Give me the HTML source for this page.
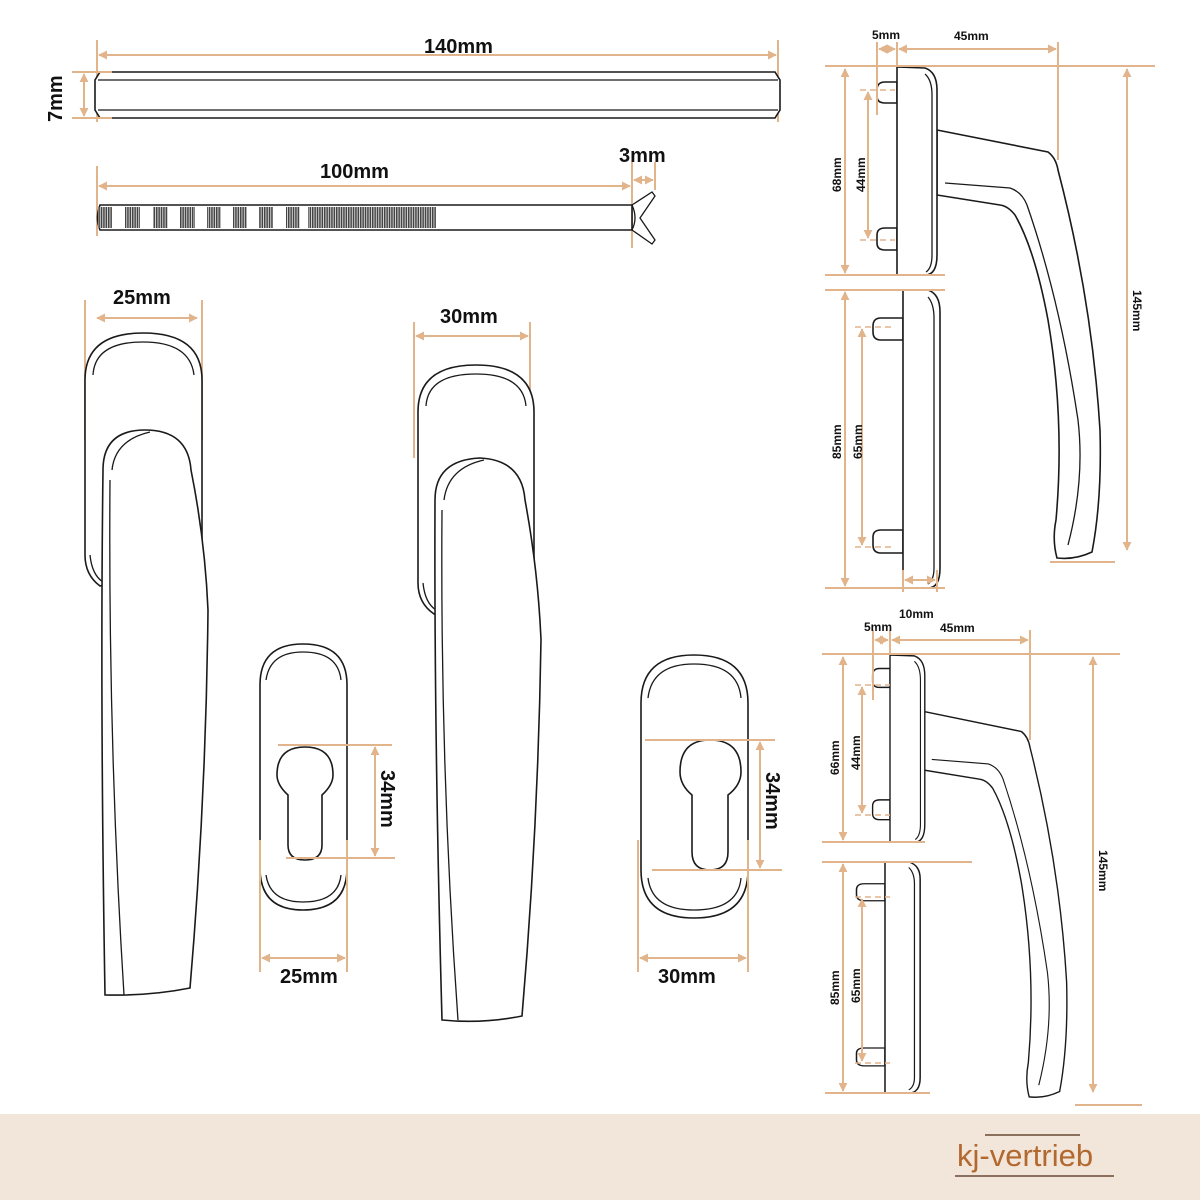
<!DOCTYPE html>
<html><head><meta charset="utf-8"><style>
html,body{margin:0;padding:0;background:#fff}
svg{display:block}
text{font-family:"Liberation Sans",sans-serif;font-weight:bold;fill:#111}
.d{stroke:#e2b48c;stroke-width:2;fill:none}
.o{stroke:#1a1a1a;stroke-width:1.6;fill:#fff}
.l{stroke:#1a1a1a;stroke-width:1.3;fill:none}
.dd{stroke:#e2b48c;stroke-width:1.5;fill:none;stroke-dasharray:6 4}
</style></head><body>
<svg width="1200" height="1200" viewBox="0 0 1200 1200" xmlns="http://www.w3.org/2000/svg">
<defs>
<marker id="a" viewBox="0 0 10 10" refX="9" refY="5" markerWidth="4.5" markerHeight="4.5" orient="auto-start-reverse"><path d="M0,0 L10,5 L0,10 z" fill="#e2b48c"/></marker>
<pattern id="th" width="2.4" height="10" patternUnits="userSpaceOnUse"><rect width="2.4" height="10" fill="#ddd"/><rect width="1.5" height="10" fill="#444"/></pattern>
</defs>

<!-- 140mm bar -->
<line class="d" x1="97" y1="40" x2="97" y2="122"/><line class="d" x1="778" y1="40" x2="778" y2="122"/>
<line class="d" x1="99" y1="55" x2="776" y2="55" marker-start="url(#a)" marker-end="url(#a)"/>
<text x="424" y="53" font-size="20">140mm</text>
<path class="o" d="M100 72 L775 72 L780 80 L780 110 L775 118 L100 118 L95 110 L95 80 Z"/>
<line class="l" x1="98" y1="80" x2="778" y2="80"/><line class="l" x1="98" y1="110" x2="778" y2="110"/>
<line class="d" x1="72" y1="72" x2="112" y2="72"/><line class="d" x1="72" y1="118" x2="112" y2="118"/>
<line class="d" x1="84" y1="74" x2="84" y2="116" marker-start="url(#a)" marker-end="url(#a)"/>
<text transform="translate(62,122) rotate(-90)" font-size="20">7mm</text>

<!-- screw -->
<line class="d" x1="97" y1="166" x2="97" y2="236"/><line class="d" x1="632" y1="162" x2="632" y2="248"/><line class="d" x1="655" y1="162" x2="655" y2="190"/>
<line class="d" x1="99" y1="186" x2="630" y2="186" marker-start="url(#a)" marker-end="url(#a)"/>
<line class="d" x1="634" y1="180" x2="653" y2="180" marker-start="url(#a)" marker-end="url(#a)"/>
<text x="320" y="178" font-size="20">100mm</text>
<text x="619" y="162" font-size="20">3mm</text>
<path class="o" d="M100 205 L632 205 L632 230 L100 230 Q95 218 100 205 Z"/>
<path class="l" d="M632 205 L652 192 L655 196 L640 218 L655 240 L652 244 L632 230"/>
<path class="l" d="M632 205 Q638 218 632 230"/>
<g fill="url(#th)">
<rect x="98" y="207" width="14" height="21"/><rect x="125" y="207" width="15" height="21"/><rect x="153" y="207" width="15" height="21"/><rect x="180" y="207" width="15" height="21"/><rect x="207" y="207" width="14" height="21"/><rect x="233" y="207" width="14" height="21"/><rect x="259" y="207" width="14" height="21"/><rect x="286" y="207" width="14" height="21"/><rect x="308" y="207" width="128" height="21"/>
</g>

<!-- handle 1 -->
<line class="d" x1="85" y1="300" x2="85" y2="440"/><line class="d" x1="202" y1="300" x2="202" y2="440"/>
<line class="d" x1="97" y1="318" x2="197" y2="318" marker-start="url(#a)" marker-end="url(#a)"/>
<text x="113" y="304" font-size="20">25mm</text>
<path class="o" d="M85 380 Q85 333 143 333 Q202 333 202 380 L202 560 L100 586 Q85 575 85 555 Z"/>
<path class="l" d="M93 375 Q95 342 143 342 Q190 342 194 375"/>
<path class="l" d="M90 555 Q92 575 103 582"/>
<path class="o" d="M105 995 Q100 700 103 470 Q103 430 145 430 Q188 430 191 470 Q205 540 208 610 Q206 800 190 988 Q150 996 105 995 Z"/>
<path class="l" d="M112 470 Q115 440 150 432 M110 480 Q108 740 124 995"/>

<!-- key rosette 1 -->
<path class="o" d="M260 685 Q260 644 303 644 Q347 644 347 685 L347 868 Q347 910 303 910 Q260 910 260 868 Z"/>
<path class="l" d="M266 680 Q270 652 303 652 Q338 652 341 680 M266 875 Q270 902 303 902 Q338 902 341 875"/>
<path class="o" d="M288 795 Q277 785 277 775 Q277 747 305 747 Q333 747 333 775 Q333 785 322 795 L322 845 Q322 860 305 860 Q288 860 288 845 Z"/>
<line class="d" x1="278" y1="745" x2="392" y2="745"/><line class="d" x1="286" y1="858" x2="395" y2="858"/>
<line class="d" x1="375" y1="747" x2="375" y2="856" marker-start="url(#a)" marker-end="url(#a)"/>
<text transform="translate(381,770) rotate(90)" font-size="20">34mm</text>
<line class="d" x1="260" y1="840" x2="260" y2="972"/><line class="d" x1="347" y1="840" x2="347" y2="972"/>
<line class="d" x1="262" y1="958" x2="345" y2="958" marker-start="url(#a)" marker-end="url(#a)"/>
<text x="280" y="983" font-size="20">25mm</text>

<!-- handle 2 -->
<line class="d" x1="414" y1="322" x2="414" y2="458"/><line class="d" x1="530" y1="322" x2="530" y2="440"/>
<line class="d" x1="416" y1="336" x2="528" y2="336" marker-start="url(#a)" marker-end="url(#a)"/>
<text x="440" y="323" font-size="20">30mm</text>
<path class="o" d="M418 412 Q418 365 476 365 Q534 365 534 412 L534 590 L434 614 Q418 603 418 583 Z"/>
<path class="l" d="M426 406 Q428 374 476 374 Q523 374 526 406"/>
<path class="l" d="M423 583 Q425 603 436 610"/>
<path class="o" d="M442 1020 Q434 730 435 500 Q435 460 480 458 Q522 460 525 500 Q538 570 541 640 Q538 830 522 1016 Q482 1024 442 1020 Z"/>
<path class="l" d="M444 500 Q448 468 484 460 M442 510 Q440 770 458 1020"/>

<!-- key rosette 2 -->
<path class="o" d="M641 703 Q641 655 694 655 Q748 655 748 703 L748 870 Q748 918 694 918 Q641 918 641 870 Z"/>
<path class="l" d="M648 698 Q652 664 694 664 Q738 664 741 698 M648 878 Q652 910 694 910 Q738 910 741 878"/>
<path class="o" d="M692 795 Q680 785 680 772 Q680 740 710 740 Q741 740 741 772 Q741 785 728 795 L728 852 Q728 870 710 870 Q692 870 692 852 Z"/>
<line class="d" x1="645" y1="740" x2="775" y2="740"/><line class="d" x1="652" y1="870" x2="782" y2="870"/>
<line class="d" x1="760" y1="742" x2="760" y2="868" marker-start="url(#a)" marker-end="url(#a)"/>
<text transform="translate(766,772) rotate(90)" font-size="20">34mm</text>
<line class="d" x1="638" y1="840" x2="638" y2="972"/><line class="d" x1="748" y1="840" x2="748" y2="972"/>
<line class="d" x1="640" y1="958" x2="746" y2="958" marker-start="url(#a)" marker-end="url(#a)"/>
<text x="658" y="983" font-size="20">30mm</text>

<!-- right top handle -->
<g id="rh1">
<path class="o" d="M937 130 L1048 152 Q1056 158 1058 170 Q1092 300 1100 430 Q1102 500 1092 552 Q1075 560 1057 558 Q1052 540 1056 520 Q1065 420 1048 320 Q1035 250 1015 215 Q1008 206 1000 205 L937 195 Z"/>
<path class="l" d="M945 183 L1010 188 Q1022 192 1027 205 Q1060 300 1078 420 Q1085 480 1068 545"/>
<path class="o" d="M877 90 Q877 82 885 82 L897 82 L897 103 L885 103 Q877 103 877 96 Z"/>
<path class="o" d="M877 235 Q877 228 885 228 L897 228 L897 250 L885 250 Q877 250 877 243 Z"/>
<path class="o" d="M897 67 L925 68 Q937 72 937 90 L937 255 Q937 275 925 275 L897 275 Z"/>
<path class="l" d="M925 74 Q932 80 932 95 L932 255 Q932 268 926 272"/>
</g>
<g id="rh2">
<path class="o" d="M873 326 Q873 318 881 318 L903 318 L903 340 L881 340 Q873 340 873 332 Z"/>
<path class="o" d="M873 537 Q873 530 881 530 L903 530 L903 553 L881 553 Q873 553 873 545 Z"/>
<path class="o" d="M903 290 L928 290 Q940 294 940 312 L940 568 Q940 588 928 588 L903 588 Z"/>
<path class="l" d="M928 297 Q934 304 934 318 L934 568 Q934 580 928 584"/>
</g>
<line class="d" x1="825" y1="66" x2="1155" y2="66"/>
<line class="d" x1="877" y1="42" x2="877" y2="115"/><line class="d" x1="897" y1="42" x2="897" y2="66"/><line class="d" x1="1058" y1="42" x2="1058" y2="160"/>
<line class="d" x1="879" y1="49" x2="895" y2="49" marker-start="url(#a)" marker-end="url(#a)"/>
<line class="d" x1="899" y1="49" x2="1056" y2="49" marker-start="url(#a)" marker-end="url(#a)"/>
<text x="872" y="39" font-size="12">5mm</text><text x="954" y="40" font-size="12">45mm</text>
<line class="d" x1="825" y1="275" x2="945" y2="275"/><line class="d" x1="825" y1="290" x2="945" y2="290"/><line class="d" x1="825" y1="588" x2="945" y2="588"/>
<line class="d" x1="845" y1="69" x2="845" y2="273" marker-start="url(#a)" marker-end="url(#a)"/>
<line class="dd" x1="860" y1="90" x2="895" y2="90"/><line class="dd" x1="860" y1="240" x2="895" y2="240"/>
<line class="d" x1="868" y1="92" x2="868" y2="238" marker-start="url(#a)" marker-end="url(#a)"/>
<text transform="translate(841,192) rotate(-90)" font-size="12">68mm</text>
<text transform="translate(865,192) rotate(-90)" font-size="12">44mm</text>
<line class="d" x1="1127" y1="69" x2="1127" y2="550" marker-start="url(#a)" marker-end="url(#a)"/>
<line class="d" x1="1050" y1="562" x2="1115" y2="562"/>
<text transform="translate(1133,290) rotate(90)" font-size="12">145mm</text>
<line class="d" x1="845" y1="292" x2="845" y2="586" marker-start="url(#a)" marker-end="url(#a)"/>
<line class="dd" x1="855" y1="327" x2="895" y2="327"/><line class="dd" x1="855" y1="547" x2="895" y2="547"/>
<line class="d" x1="862" y1="329" x2="862" y2="545" marker-start="url(#a)" marker-end="url(#a)"/>
<text transform="translate(841,459) rotate(-90)" font-size="12">85mm</text>
<text transform="translate(862,459) rotate(-90)" font-size="12">65mm</text>
<line class="d" x1="903" y1="570" x2="903" y2="592"/><line class="d" x1="937" y1="570" x2="937" y2="592"/>
<line class="d" x1="905" y1="580" x2="935" y2="580" marker-start="url(#a)" marker-end="url(#a)"/>
<text x="899" y="618" font-size="12">10mm</text>

<!-- right bottom handle -->
<use href="#rh1" transform="translate(890,655) scale(0.87,0.9) translate(-897,-67)"/>
<use href="#rh2" transform="translate(885,862) scale(0.95,0.775) translate(-903,-290)"/>
<line class="d" x1="822" y1="654" x2="1120" y2="654"/>
<line class="d" x1="873" y1="630" x2="873" y2="700"/><line class="d" x1="890" y1="630" x2="890" y2="654"/><line class="d" x1="1030" y1="630" x2="1030" y2="740"/>
<line class="d" x1="875" y1="640" x2="888" y2="640" marker-start="url(#a)" marker-end="url(#a)"/>
<line class="d" x1="892" y1="640" x2="1028" y2="640" marker-start="url(#a)" marker-end="url(#a)"/>
<text x="864" y="631" font-size="12">5mm</text><text x="940" y="632" font-size="12">45mm</text>
<line class="d" x1="822" y1="842" x2="925" y2="842"/><line class="d" x1="822" y1="862" x2="972" y2="862" /><line class="d" x1="825" y1="1093" x2="930" y2="1093"/>
<line class="d" x1="843" y1="657" x2="843" y2="840" marker-start="url(#a)" marker-end="url(#a)"/>
<line class="dd" x1="855" y1="685" x2="890" y2="685"/><line class="dd" x1="855" y1="815" x2="890" y2="815"/>
<line class="d" x1="862" y1="687" x2="862" y2="813" marker-start="url(#a)" marker-end="url(#a)"/>
<text transform="translate(839,775) rotate(-90)" font-size="12">66mm</text>
<text transform="translate(860,770) rotate(-90)" font-size="12">44mm</text>
<line class="d" x1="1093" y1="657" x2="1093" y2="1092" marker-start="url(#a)" marker-end="url(#a)"/>
<line class="d" x1="1075" y1="1105" x2="1142" y2="1105"/>
<text transform="translate(1099,850) rotate(90)" font-size="12">145mm</text>
<line class="d" x1="843" y1="864" x2="843" y2="1091" marker-start="url(#a)" marker-end="url(#a)"/>
<line class="dd" x1="855" y1="897" x2="890" y2="897"/><line class="dd" x1="855" y1="1063" x2="890" y2="1063"/>
<line class="d" x1="862" y1="899" x2="862" y2="1061" marker-start="url(#a)" marker-end="url(#a)"/>
<text transform="translate(839,1005) rotate(-90)" font-size="12">85mm</text>
<text transform="translate(860,1003) rotate(-90)" font-size="12">65mm</text>

<!-- banner -->
<rect x="0" y="1114" width="1200" height="86" fill="#f2e5da"/>
<line x1="985" y1="1135" x2="1080" y2="1135" stroke="#6a4a34" stroke-width="1.5"/>
<line x1="955" y1="1176" x2="1114" y2="1176" stroke="#6a4a34" stroke-width="1.5"/>
<text x="957" y="1166" font-size="31" style="font-weight:normal;fill:#b2692f">kj-vertrieb</text>
</svg>
</body></html>
